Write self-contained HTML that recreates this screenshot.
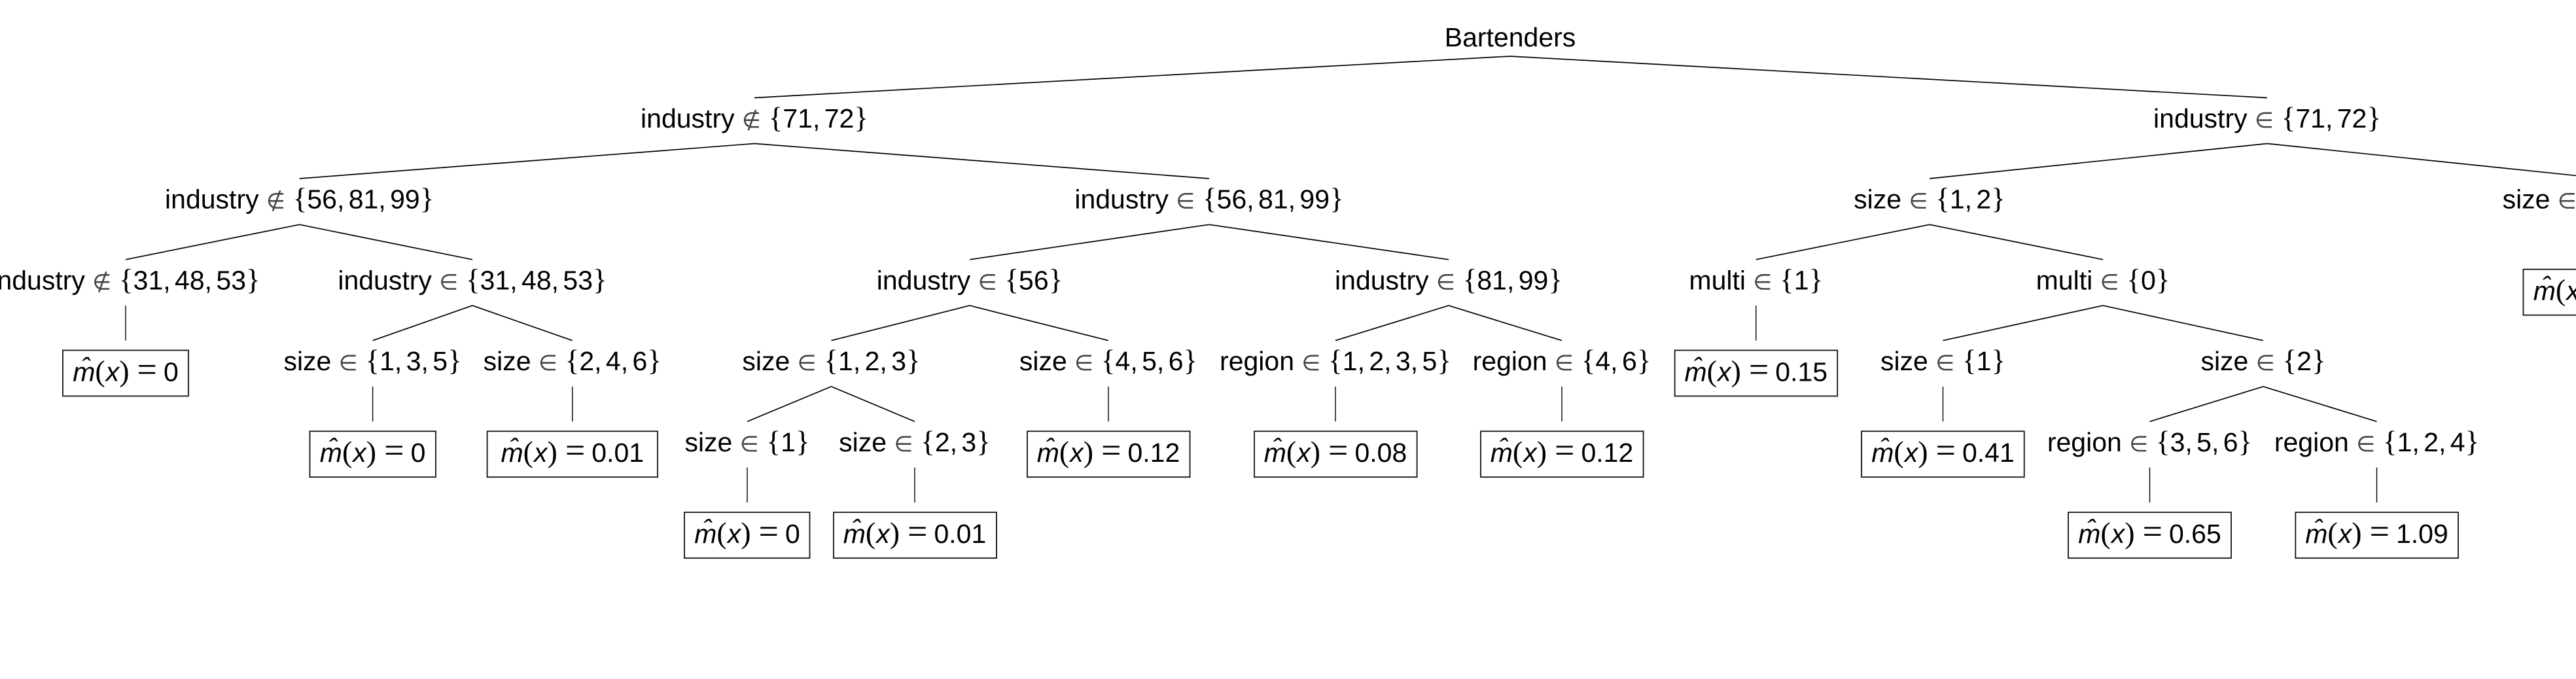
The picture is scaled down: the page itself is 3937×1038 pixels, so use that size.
<!DOCTYPE html>
<html lang="en">
<head>
<meta charset="utf-8">
<title>Bartenders decision tree</title>
<style>
html,body{margin:0;padding:0;background:#fff;}
body{width:3937px;height:1038px;overflow:hidden;}
svg{display:block;}
text{font-family:"Liberation Sans",sans-serif;font-size:41px;fill:#000;text-anchor:middle;}
.e{stroke:#000;stroke-width:1.7;fill:none;}
.v{stroke:#000;stroke-width:1.4;fill:none;}
.box{stroke:#111;stroke-width:1.8;fill:#fff;}
.in{font-family:"DejaVu Sans",sans-serif;font-size:33px;letter-spacing:12px;fill:#444;}
.b{font-family:"Liberation Serif",serif;font-size:45px;}
.d{word-spacing:-5px;}
.i{font-style:italic;}
.p{font-family:"Liberation Serif",serif;font-size:46px;letter-spacing:1px;}
.q{font-family:"Liberation Serif",serif;font-size:54px;letter-spacing:10px;}
.pc{font-family:"Liberation Serif",serif;font-size:46px;letter-spacing:12px;}
</style>
</head>
<body>
<svg width="3937" height="1038" viewBox="0 0 3937 1038" xmlns="http://www.w3.org/2000/svg">
<rect x="0" y="0" width="3937" height="1038" fill="#fff"/>

<g>
<line class="e" x1="2308" y1="86" x2="1153" y2="149.5"/>
<line class="e" x1="2308" y1="86" x2="3465" y2="149.5"/>
<line class="e" x1="1153" y1="219.5" x2="457.7" y2="273"/>
<line class="e" x1="1153" y1="219.5" x2="1848" y2="273"/>
<line class="e" x1="3465" y1="219.5" x2="2949" y2="273"/>
<line class="e" x1="3465" y1="219.5" x2="3981" y2="273"/>
<line class="e" x1="457.7" y1="343.3" x2="192" y2="396.8"/>
<line class="e" x1="457.7" y1="343.3" x2="722" y2="396.8"/>
<line class="e" x1="1848" y1="343.3" x2="1482" y2="396.8"/>
<line class="e" x1="1848" y1="343.3" x2="2214" y2="396.8"/>
<line class="e" x1="2949" y1="343.3" x2="2683.8" y2="396.8"/>
<line class="e" x1="2949" y1="343.3" x2="3214" y2="396.8"/>
<line class="v" x1="3981" y1="343.3" x2="3981" y2="396.8"/>
<line class="v" x1="192" y1="467.1" x2="192" y2="520.6"/>
<line class="e" x1="722" y1="467.1" x2="569.6" y2="520.6"/>
<line class="e" x1="722" y1="467.1" x2="874.8" y2="520.6"/>
<line class="e" x1="1482" y1="467.1" x2="1270.5" y2="520.6"/>
<line class="e" x1="1482" y1="467.1" x2="1694" y2="520.6"/>
<line class="e" x1="2214" y1="467.1" x2="2041" y2="520.6"/>
<line class="e" x1="2214" y1="467.1" x2="2387" y2="520.6"/>
<line class="v" x1="2683.8" y1="467.1" x2="2683.8" y2="520.6"/>
<line class="e" x1="3214" y1="467.1" x2="2969.5" y2="520.6"/>
<line class="e" x1="3214" y1="467.1" x2="3459" y2="520.6"/>
<line class="v" x1="569.6" y1="590.9" x2="569.6" y2="644.4"/>
<line class="v" x1="874.8" y1="590.9" x2="874.8" y2="644.4"/>
<line class="e" x1="1270.5" y1="590.9" x2="1142" y2="644.4"/>
<line class="e" x1="1270.5" y1="590.9" x2="1398" y2="644.4"/>
<line class="v" x1="1694" y1="590.9" x2="1694" y2="644.4"/>
<line class="v" x1="2041" y1="590.9" x2="2041" y2="644.4"/>
<line class="v" x1="2387" y1="590.9" x2="2387" y2="644.4"/>
<line class="v" x1="2969.5" y1="590.9" x2="2969.5" y2="644.4"/>
<line class="e" x1="3459" y1="590.9" x2="3285.5" y2="644.4"/>
<line class="e" x1="3459" y1="590.9" x2="3632.5" y2="644.4"/>
<line class="v" x1="1142" y1="714.7" x2="1142" y2="768.2"/>
<line class="v" x1="1398" y1="714.7" x2="1398" y2="768.2"/>
<line class="v" x1="3285.5" y1="714.7" x2="3285.5" y2="768.2"/>
<line class="v" x1="3632.5" y1="714.7" x2="3632.5" y2="768.2"/>
</g>

<g>
<text x="2308" y="71">Bartenders</text>

<text x="1153" y="195">industry <tspan class="in">∉</tspan><tspan class="b">{</tspan><tspan class="d">71, 72</tspan><tspan class="b">}</tspan></text>
<text x="3465" y="195">industry <tspan class="in">∈</tspan><tspan class="b">{</tspan><tspan class="d">71, 72</tspan><tspan class="b">}</tspan></text>

<text x="457.7" y="318.5">industry <tspan class="in">∉</tspan><tspan class="b">{</tspan><tspan class="d">56, 81, 99</tspan><tspan class="b">}</tspan></text>
<text x="1848" y="318.5">industry <tspan class="in">∈</tspan><tspan class="b">{</tspan><tspan class="d">56, 81, 99</tspan><tspan class="b">}</tspan></text>
<text x="2949" y="318.5">size <tspan class="in">∈</tspan><tspan class="b">{</tspan><tspan class="d">1, 2</tspan><tspan class="b">}</tspan></text>
<text x="3981" y="318.5">size <tspan class="in">∈</tspan><tspan class="b">{</tspan><tspan class="d">3, 4, 5, 6</tspan><tspan class="b">}</tspan></text>

<text x="192" y="442.3">industry <tspan class="in">∉</tspan><tspan class="b">{</tspan><tspan class="d">31, 48, 53</tspan><tspan class="b">}</tspan></text>
<text x="722" y="442.3">industry <tspan class="in">∈</tspan><tspan class="b">{</tspan><tspan class="d">31, 48, 53</tspan><tspan class="b">}</tspan></text>
<text x="1482" y="442.3">industry <tspan class="in">∈</tspan><tspan class="b">{</tspan><tspan class="d">56</tspan><tspan class="b">}</tspan></text>
<text x="2214" y="442.3">industry <tspan class="in">∈</tspan><tspan class="b">{</tspan><tspan class="d">81, 99</tspan><tspan class="b">}</tspan></text>
<text x="2683.8" y="442.3">multi <tspan class="in">∈</tspan><tspan class="b">{</tspan><tspan class="d">1</tspan><tspan class="b">}</tspan></text>
<text x="3214" y="442.3">multi <tspan class="in">∈</tspan><tspan class="b">{</tspan><tspan class="d">0</tspan><tspan class="b">}</tspan></text>

<text x="569.6" y="566">size <tspan class="in">∈</tspan><tspan class="b">{</tspan><tspan class="d">1, 3, 5</tspan><tspan class="b">}</tspan></text>
<text x="874.8" y="566">size <tspan class="in">∈</tspan><tspan class="b">{</tspan><tspan class="d">2, 4, 6</tspan><tspan class="b">}</tspan></text>
<text x="1270.5" y="566">size <tspan class="in">∈</tspan><tspan class="b">{</tspan><tspan class="d">1, 2, 3</tspan><tspan class="b">}</tspan></text>
<text x="1694" y="566">size <tspan class="in">∈</tspan><tspan class="b">{</tspan><tspan class="d">4, 5, 6</tspan><tspan class="b">}</tspan></text>
<text x="2041" y="566">region <tspan class="in">∈</tspan><tspan class="b">{</tspan><tspan class="d">1, 2, 3, 5</tspan><tspan class="b">}</tspan></text>
<text x="2387" y="566">region <tspan class="in">∈</tspan><tspan class="b">{</tspan><tspan class="d">4, 6</tspan><tspan class="b">}</tspan></text>
<text x="2969.5" y="566">size <tspan class="in">∈</tspan><tspan class="b">{</tspan><tspan class="d">1</tspan><tspan class="b">}</tspan></text>
<text x="3459" y="566">size <tspan class="in">∈</tspan><tspan class="b">{</tspan><tspan class="d">2</tspan><tspan class="b">}</tspan></text>

<text x="1142" y="690">size <tspan class="in">∈</tspan><tspan class="b">{</tspan><tspan class="d">1</tspan><tspan class="b">}</tspan></text>
<text x="1398" y="690">size <tspan class="in">∈</tspan><tspan class="b">{</tspan><tspan class="d">2, 3</tspan><tspan class="b">}</tspan></text>
<text x="3285.5" y="690">region <tspan class="in">∈</tspan><tspan class="b">{</tspan><tspan class="d">3, 5, 6</tspan><tspan class="b">}</tspan></text>
<text x="3632.5" y="690">region <tspan class="in">∈</tspan><tspan class="b">{</tspan><tspan class="d">1, 2, 4</tspan><tspan class="b">}</tspan></text>
</g>

<g>
<g><rect class="box" x="3856.4" y="411.7" width="249" height="70"/><text x="3981" y="458.5"><tspan class="i">m̂</tspan><tspan class="p">(</tspan><tspan class="i">x</tspan><tspan class="pc">)</tspan><tspan class="q">=</tspan>0.00</text></g>

<g><rect class="box" x="96" y="535.5" width="192" height="70"/><text x="192" y="582.3"><tspan class="i">m̂</tspan><tspan class="p">(</tspan><tspan class="i">x</tspan><tspan class="pc">)</tspan><tspan class="q">=</tspan>0</text></g>
<g><rect class="box" x="2559.6" y="535.5" width="248.6" height="70"/><text x="2683.8" y="582.3"><tspan class="i">m̂</tspan><tspan class="p">(</tspan><tspan class="i">x</tspan><tspan class="pc">)</tspan><tspan class="q">=</tspan>0.15</text></g>

<g><rect class="box" x="473.5" y="659.3" width="192.5" height="70"/><text x="569.6" y="706"><tspan class="i">m̂</tspan><tspan class="p">(</tspan><tspan class="i">x</tspan><tspan class="pc">)</tspan><tspan class="q">=</tspan>0</text></g>
<g><rect class="box" x="744.6" y="659.3" width="260.4" height="70"/><text x="874.8" y="706"><tspan class="i">m̂</tspan><tspan class="p">(</tspan><tspan class="i">x</tspan><tspan class="pc">)</tspan><tspan class="q">=</tspan>0.01</text></g>
<g><rect class="box" x="1570" y="659.3" width="248.6" height="70"/><text x="1694" y="706"><tspan class="i">m̂</tspan><tspan class="p">(</tspan><tspan class="i">x</tspan><tspan class="pc">)</tspan><tspan class="q">=</tspan>0.12</text></g>
<g><rect class="box" x="1917" y="659.3" width="248.6" height="70"/><text x="2041" y="706"><tspan class="i">m̂</tspan><tspan class="p">(</tspan><tspan class="i">x</tspan><tspan class="pc">)</tspan><tspan class="q">=</tspan>0.08</text></g>
<g><rect class="box" x="2263" y="659.3" width="248.6" height="70"/><text x="2387" y="706"><tspan class="i">m̂</tspan><tspan class="p">(</tspan><tspan class="i">x</tspan><tspan class="pc">)</tspan><tspan class="q">=</tspan>0.12</text></g>
<g><rect class="box" x="2845" y="659.3" width="248.7" height="70"/><text x="2969.5" y="706"><tspan class="i">m̂</tspan><tspan class="p">(</tspan><tspan class="i">x</tspan><tspan class="pc">)</tspan><tspan class="q">=</tspan>0.41</text></g>

<g><rect class="box" x="1046" y="783.2" width="191.5" height="70"/><text x="1142" y="830"><tspan class="i">m̂</tspan><tspan class="p">(</tspan><tspan class="i">x</tspan><tspan class="pc">)</tspan><tspan class="q">=</tspan>0</text></g>
<g><rect class="box" x="1274" y="783.2" width="249" height="70"/><text x="1398" y="830"><tspan class="i">m̂</tspan><tspan class="p">(</tspan><tspan class="i">x</tspan><tspan class="pc">)</tspan><tspan class="q">=</tspan>0.01</text></g>
<g><rect class="box" x="3161" y="783.2" width="249" height="70"/><text x="3285.5" y="830"><tspan class="i">m̂</tspan><tspan class="p">(</tspan><tspan class="i">x</tspan><tspan class="pc">)</tspan><tspan class="q">=</tspan>0.65</text></g>
<g><rect class="box" x="3508.3" y="783.2" width="248.7" height="70"/><text x="3632.5" y="830"><tspan class="i">m̂</tspan><tspan class="p">(</tspan><tspan class="i">x</tspan><tspan class="pc">)</tspan><tspan class="q">=</tspan>1.09</text></g>
</g>
</svg>
</body>
</html>
